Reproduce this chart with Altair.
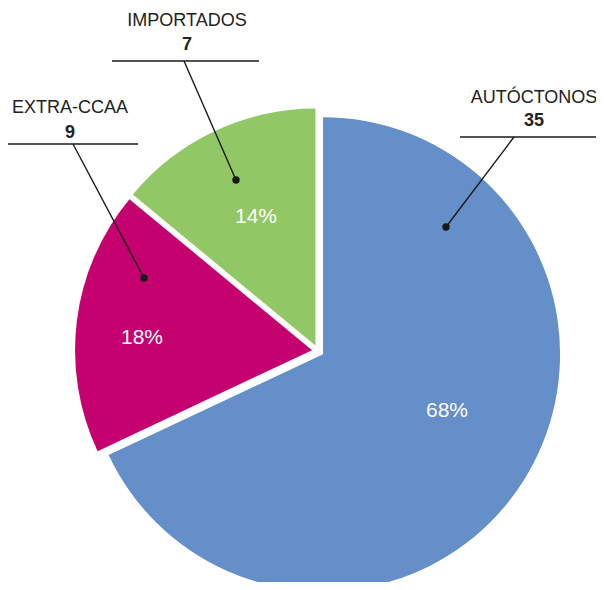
import math
import altair as alt
import pandas as pd

# ---- data ----
categories = ["AUTÓCTONOS", "EXTRA-CCAA", "IMPORTADOS"]
counts = [35, 9, 7]
percents = [68, 18, 14]
slice_order = [0, 1, 2]

# ---- styles / layout ----
colors = ["#648FC9", "#C5006F", "#92C765"]
FONT = "Liberation Sans"
W, H = 588, 574
CX, CY = 310, 343          # pie centre (view coords)
R_OUT = 237
EXPLODE = 6
TAU = 2 * math.pi

# annotation layout per category (view coords)
LAYOUT = {
    "AUTÓCTONOS": dict(name=(526, 90), num=(526, 113), hline=(452, 596, 129),
                       lead=(506, 129), dot=(438, 219), pct=(439, 403)),
    "EXTRA-CCAA": dict(name=(62, 100), num=(62, 125), hline=(-2, 130, 136),
                       lead=(65, 136), dot=(136, 270), pct=(134, 330)),
    "IMPORTADOS": dict(name=(179, 13), num=(179, 37), hline=(104, 251, 53),
                       lead=(176, 53), dot=(228, 172), pct=(248, 209)),
}

df = pd.DataFrame({"cat": categories, "count": counts, "share": percents,
                   "order": slice_order})
df["num"] = df["count"].astype(str)
df["pct"] = df["share"].astype(str) + "%"

pie = (
    alt.Chart(df)
    .transform_window(cum="sum(share)", sort=[alt.SortField("order")])
    .transform_joinaggregate(total="sum(share)")
    .transform_calculate(
        t0=f"(datum.cum - datum.share) / datum.total * {TAU}",
        t1=f"datum.cum / datum.total * {TAU}",
    )
    .transform_calculate(mid="(datum.t0 + datum.t1) / 2")
    .transform_calculate(
        cx=f"{CX} + {EXPLODE} * sin(datum.mid)",
        cy=f"{CY} - {EXPLODE} * cos(datum.mid)",
    )
    .mark_arc(outerRadius=R_OUT)
    .encode(
        theta=alt.Theta("t0:Q", scale=None),
        theta2="t1:Q",
        x=alt.X("cx:Q", scale=None),
        y=alt.Y("cy:Q", scale=None),
        color=alt.Color("cat:N", scale=alt.Scale(domain=categories, range=colors), legend=None),
    )
)

layers = [pie]
for cat in categories:
    L = LAYOUT[cat]
    base = alt.Chart(df).transform_filter(alt.datum.cat == cat)
    x1, x2, yh = L["hline"]
    layers.append(base.mark_rule(color="#1a1a1a", strokeWidth=1.6).encode(
        x=alt.value(x1), x2=alt.value(x2), y=alt.value(yh)))
    layers.append(base.mark_rule(color="#1a1a1a", strokeWidth=1.4).encode(
        x=alt.value(L["lead"][0]), y=alt.value(L["lead"][1]),
        x2=alt.value(L["dot"][0]), y2=alt.value(L["dot"][1])))
    layers.append(base.mark_circle(size=55, color="#1a1a1a", opacity=1).encode(
        x=alt.value(L["dot"][0]), y=alt.value(L["dot"][1])))
    layers.append(base.mark_text(font=FONT, fontSize=18, color="#222222",
                                 align="center", baseline="middle").encode(
        text="cat:N", x=alt.value(L["name"][0]), y=alt.value(L["name"][1])))
    layers.append(base.mark_text(font=FONT, fontSize=18, fontWeight="bold", color="#222222",
                                 align="center", baseline="middle").encode(
        text="num:N", x=alt.value(L["num"][0]), y=alt.value(L["num"][1])))
    layers.append(base.mark_text(font=FONT, fontSize=21, color="white",
                                 align="center", baseline="middle").encode(
        text="pct:N", x=alt.value(L["pct"][0]), y=alt.value(L["pct"][1])))

chart = alt.layer(*layers).properties(
    width=W, height=H, padding=0, autosize=alt.AutoSizeParams(type="none")
).configure_view(stroke=None)

chart.save("out.html", embed_options={"renderer": "svg", "actions": False})
